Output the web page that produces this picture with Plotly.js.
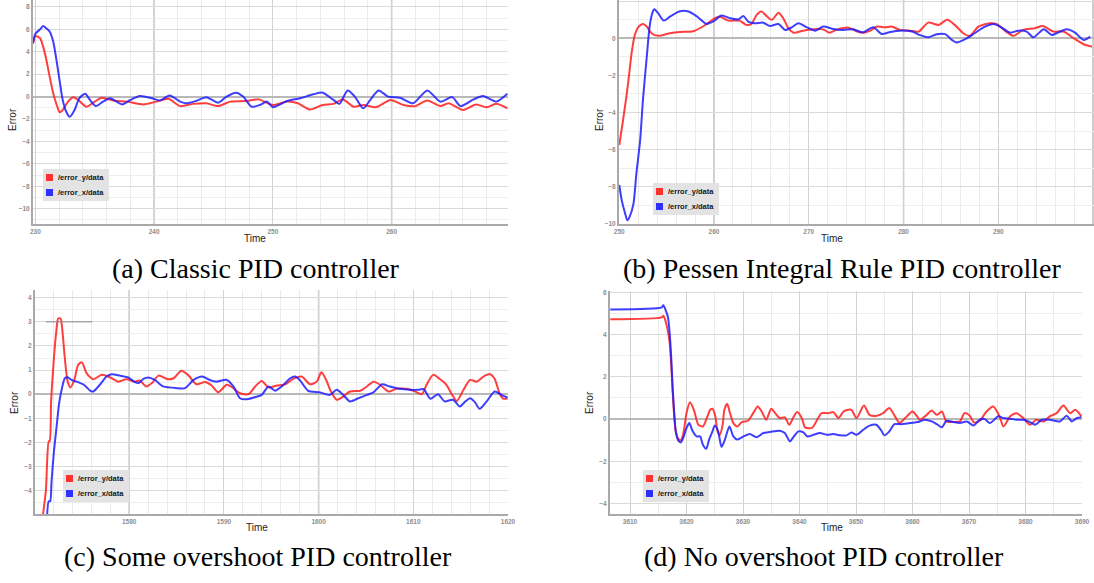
<!DOCTYPE html>
<html>
<head>
<meta charset="utf-8">
<script src="https://cdn.plot.ly/plotly-3.0.1.min.js"></script>
<style>
  html, body { margin: 0; padding: 0; background: #fff; }
  #chart { width: 1094px; height: 583px; }
</style>
</head>
<body>
<div id="chart"></div>
<script>
// ---- recorded tracking errors (time in s, error in m) ----
// (a) Classic PID
const classicTimeY = [229.8,230.0,230.4,230.65,230.9,231.2,231.5,231.8,232.05,232.3,232.75,233.2,233.6,234.3,235.0,235.6,236.55,237.7,239.1,240.2,241.2,242.2,243.3,244.4,245.4,246.4,247.8,248.8,250.0,251.2,252.1,253.1,254.2,255.1,255.9,256.8,257.6,258.7,259.9,261.0,262.0,263.0,264.1,264.8,266.0,267.1,268.0,268.8,269.75];
const classicErrY = [4.75,5.4,5.2,4.45,3.4,1.8,0.3,-0.75,-1.4,-1.2,-0.45,-0.05,-0.3,-0.9,-0.45,-0.1,-0.35,-0.45,-0.7,-0.45,-0.2,-0.85,-0.65,-0.6,-0.85,-0.45,-0.4,-0.25,-0.75,-0.45,-0.6,-1.15,-0.75,-0.65,-0.25,-0.9,-0.75,-0.95,-0.3,-0.75,-0.85,-0.35,-0.85,-0.6,-1.2,-0.7,-0.95,-0.65,-1.05];
const classicTimeX = [229.8,230.0,230.4,230.65,230.9,231.2,231.5,231.8,232.05,232.3,232.6,232.9,233.3,233.7,234.2,234.6,235.1,235.7,236.3,237.3,238.0,238.8,239.8,240.5,241.3,242.2,242.7,243.5,244.4,245.4,246.1,246.9,247.5,248.2,248.9,249.5,250.0,251.2,252.3,253.4,254.2,255.1,255.6,256.3,256.9,257.6,258.2,258.9,259.7,260.7,261.8,263.0,264.1,265.1,265.8,266.9,267.7,268.8,269.75];
const classicErrX = [4.75,5.6,6.0,6.3,6.1,5.8,4.9,3.1,1.35,-0.3,-1.35,-1.8,-1.2,-0.15,0.25,-0.3,-0.85,-0.45,-0.15,-0.7,-0.3,0.05,-0.15,-0.35,0.1,-0.45,-0.6,-0.4,-0.05,-0.55,0.0,0.35,0.0,-0.9,-0.75,-0.45,-0.95,-0.4,-0.15,0.2,0.35,-0.3,-0.65,0.55,0.0,-1.05,-0.3,0.55,0.0,-0.1,-0.6,0.55,-0.45,-0.05,-0.85,-0.25,0.05,-0.45,0.25];

// (b) Pessen Integral Rule PID
const pessenTimeY = [250.0,250.4,250.8,251.05,251.3,251.65,252.0,252.5,252.9,253.4,254.1,255.35,256.4,257.8,258.9,259.9,260.6,261.5,262.7,263.4,263.95,264.5,265.0,265.6,266.1,266.8,267.3,267.85,268.4,269.4,270.5,271.5,272.2,272.9,274.2,275.1,275.8,276.5,277.2,278.05,278.75,279.6,280.7,281.6,282.6,283.7,284.6,285.4,286.3,287.0,287.9,289.1,289.8,290.7,291.6,292.6,293.85,294.7,295.8,296.9,297.95,299.0,299.9];
const pessenErrY = [-5.75,-4.4,-2.95,-1.9,-0.8,0.2,0.6,0.77,0.63,0.27,0.13,0.27,0.34,0.38,0.66,1.02,1.17,0.95,0.95,0.72,0.77,1.26,1.44,1.17,0.99,1.38,1.08,0.54,0.3,0.41,0.48,0.48,0.3,0.45,0.57,0.36,0.3,0.41,0.63,0.59,0.63,0.45,0.41,0.36,0.84,0.72,0.99,0.72,0.27,0.13,0.63,0.81,0.77,0.41,0.13,0.45,0.54,0.66,0.36,0.36,0.0,-0.32,-0.45];
const pessenTimeX = [250.0,250.25,250.6,250.85,251.1,251.5,251.8,252.2,252.5,252.9,253.2,253.5,253.7,254.1,254.7,255.35,256.4,257.3,258.2,259.2,259.9,260.8,261.7,262.6,263.1,263.6,264.3,265.2,265.9,266.8,267.5,268.2,268.9,269.8,270.7,271.5,272.6,273.6,274.7,275.7,276.8,277.7,278.6,279.6,280.9,281.7,282.6,283.5,284.4,285.1,285.6,286.5,287.5,288.6,289.5,290.2,291.25,292.1,293.0,293.7,294.8,295.65,296.5,297.2,298.1,299.0,299.7];
const pessenErrX = [-7.9,-8.7,-9.4,-9.8,-9.6,-8.9,-7.3,-5.5,-3.3,-1.0,0.63,1.38,1.56,1.35,0.95,1.17,1.45,1.44,1.17,0.77,0.9,1.22,1.08,1.02,1.2,0.9,0.81,0.84,0.66,0.77,0.45,0.59,0.81,0.59,0.41,0.63,0.5,0.45,0.48,0.32,0.59,0.23,0.34,0.41,0.36,0.18,0.05,0.22,0.22,-0.09,-0.23,-0.05,0.27,0.63,0.77,0.63,0.3,0.41,0.36,0.05,0.48,0.18,0.36,0.48,0.3,-0.09,0.09];

// (c) Some overshoot PID
const someTimeY = [1570.75,1570.9,1571.2,1571.5,1571.6,1571.75,1571.9,1572.1,1572.3,1572.5,1572.75,1572.95,1573.2,1573.5,1573.8,1574.2,1574.6,1575.0,1575.5,1576.2,1577.1,1578.0,1578.85,1579.7,1580.6,1581.1,1581.8,1582.4,1583.1,1584.0,1584.7,1585.5,1586.2,1587.1,1588.0,1588.7,1589.4,1590.3,1591.0,1591.7,1592.6,1593.3,1594.0,1594.7,1595.6,1596.5,1597.3,1598.2,1599.1,1599.8,1600.3,1600.8,1601.3,1601.9,1602.6,1603.3,1604.4,1605.1,1605.8,1606.5,1607.4,1608.2,1609.3,1610.2,1610.9,1611.4,1612.1,1612.8,1613.5,1614.0,1614.6,1615.3,1616.0,1616.7,1617.4,1618.1,1618.6,1619.1,1619.5,1619.95];
const someErrY = [-6.0,-5.0,-4.0,-1.95,-1.95,-0.3,0.66,1.77,2.6,3.14,3.14,2.6,1.49,0.52,0.28,0.59,1.21,1.32,0.87,0.62,0.8,0.69,0.52,0.62,0.52,0.57,0.32,0.46,0.77,0.63,0.66,0.97,0.8,0.41,0.5,0.36,0.08,0.39,0.25,0.04,0.0,0.32,0.55,0.28,0.36,0.41,0.63,0.73,0.41,0.52,0.91,0.59,0.11,-0.23,-0.1,0.11,0.14,0.32,0.52,0.39,0.11,0.22,0.22,0.11,0.0,0.39,0.8,0.63,0.39,0.04,-0.28,0.18,0.59,0.52,0.73,0.83,0.63,0.04,-0.19,-0.17];
const someTimeX = [1571.3,1571.5,1571.65,1571.8,1572.05,1572.35,1572.6,1572.9,1573.2,1573.5,1573.9,1574.45,1575.2,1575.9,1576.2,1576.9,1577.6,1578.15,1579.0,1579.9,1580.6,1581.0,1581.5,1582.0,1582.7,1583.6,1585.0,1585.9,1586.8,1587.7,1588.5,1589.2,1590.3,1591.0,1591.7,1592.4,1593.5,1594.0,1594.7,1595.4,1596.1,1597.0,1597.5,1598.0,1598.9,1600.1,1601.2,1601.9,1602.6,1603.3,1604.2,1605.1,1605.8,1606.7,1607.5,1608.6,1609.6,1610.5,1611.1,1611.8,1612.6,1613.3,1614.2,1614.9,1615.5,1616.0,1616.5,1617.0,1617.75,1618.6,1619.3,1619.95];
const someErrX = [-5.3,-4.44,-4.44,-3.6,-2.37,-1.27,-0.37,0.25,0.66,0.7,0.59,0.52,0.39,0.14,0.11,0.39,0.73,0.83,0.77,0.69,0.5,0.46,0.63,0.69,0.59,0.32,0.25,0.25,0.59,0.73,0.59,0.52,0.59,0.32,-0.17,-0.21,-0.1,-0.03,0.32,0.14,0.32,0.66,0.73,0.59,0.14,0.08,-0.03,0.18,-0.03,-0.3,-0.17,-0.03,0.08,0.41,0.32,0.22,0.18,0.18,0.21,-0.19,0.0,-0.3,-0.23,-0.51,-0.3,-0.17,-0.33,-0.61,-0.3,0.11,-0.03,-0.14];

// (d) No overshoot PID
const noTimeY = [3606.5,3615.6,3615.9,3616.2,3616.6,3617.0,3617.3,3617.55,3617.85,3618.1,3618.55,3619.0,3619.4,3620.0,3620.6,3621.3,3622.1,3622.9,3623.6,3624.2,3624.6,3625.1,3625.5,3625.9,3626.4,3626.7,3627.2,3627.7,3628.3,3629.0,3629.8,3630.9,3631.8,3632.6,3633.3,3634.1,3635.0,3635.7,3636.5,3637.4,3638.2,3639.0,3639.6,3640.4,3641.0,3642.2,3643.3,3643.9,3645.1,3646.0,3646.9,3647.8,3648.6,3649.2,3650.1,3651.4,3652.4,3653.7,3654.8,3655.9,3656.9,3657.7,3658.7,3660.0,3660.7,3661.3,3662.5,3663.4,3664.3,3665.2,3666.0,3667.2,3668.4,3669.2,3670.1,3670.9,3671.9,3673.1,3674.3,3675.4,3676.1,3677.3,3678.4,3679.6,3680.8,3681.9,3683.2,3684.3,3685.5,3686.7,3687.9,3688.8,3689.9];
const noErrY = [4.72,4.81,4.89,4.72,4.29,3.66,2.56,1.3,0.05,-0.58,-0.93,-1.0,-0.74,0.28,0.8,0.44,-0.27,-0.35,0.05,0.44,0.49,0.13,-0.58,-0.74,-0.27,0.44,0.72,0.28,-0.19,-0.35,-0.14,-0.08,0.28,0.6,0.36,-0.03,0.49,0.28,0.05,0.08,-0.27,0.13,0.33,0.05,-0.39,-0.42,0.05,0.28,0.28,0.33,0.05,0.36,0.44,0.44,0.05,0.64,0.2,0.16,0.28,0.52,0.13,-0.19,0.05,0.36,0.17,-0.03,0.2,0.41,0.2,0.36,-0.11,-0.14,-0.11,0.28,0.17,-0.16,-0.08,0.36,0.6,0.13,-0.35,0.13,0.28,0.05,-0.27,-0.03,-0.11,0.13,0.28,0.64,0.28,0.44,0.13];
const noTimeX = [3606.5,3615.6,3615.9,3616.3,3616.7,3617.0,3617.3,3617.55,3617.85,3618.1,3618.55,3619.0,3619.4,3620.0,3620.5,3621.1,3621.8,3622.4,3622.9,3623.5,3624.0,3624.6,3625.0,3625.6,3626.2,3626.8,3627.6,3628.3,3629.0,3630.1,3631.2,3632.4,3633.6,3634.8,3636.5,3637.4,3638.3,3639.0,3639.8,3640.7,3641.4,3642.5,3643.6,3644.8,3646.0,3647.2,3648.3,3649.2,3650.1,3651.3,3652.4,3653.6,3654.5,3655.0,3655.9,3656.8,3658.0,3659.6,3661.3,3662.2,3663.4,3664.3,3665.2,3666.0,3667.2,3668.4,3669.6,3670.8,3671.9,3672.8,3673.7,3675.2,3676.1,3677.3,3678.4,3679.6,3680.8,3681.7,3682.9,3684.3,3686.1,3687.3,3688.2,3689.1,3689.9];
const noErrX = [5.19,5.28,5.39,5.16,4.84,4.13,2.88,1.46,0.2,-0.58,-1.02,-1.1,-0.9,-0.42,-0.19,-0.58,-0.82,-0.82,-1.21,-1.4,-0.97,-0.58,-0.3,-0.58,-1.32,-0.97,-0.35,-0.82,-0.97,-0.82,-0.71,-0.86,-0.66,-0.61,-0.55,-0.66,-1.05,-0.82,-0.58,-0.63,-0.82,-0.74,-0.66,-0.74,-0.71,-0.77,-0.77,-0.63,-0.74,-0.5,-0.31,-0.27,-0.55,-0.77,-0.58,-0.24,-0.24,-0.19,-0.11,-0.03,-0.11,-0.24,-0.39,-0.08,-0.14,-0.19,-0.11,-0.3,-0.03,0.0,-0.19,0.13,0.05,0.02,-0.03,-0.03,-0.14,-0.27,-0.03,-0.03,-0.11,0.16,-0.11,0.05,0.09];

// ---- labels ----
const seriesNames = ['/error_y/data', '/error_x/data'];
const captions = [
  '(a) Classic PID controller',
  '(b) Pessen Integral Rule PID controller',
  '(c) Some overshoot PID controller',
  '(d) No overshoot PID controller'
];
const xTitle = 'Time';
const yTitle = 'Error';

// ---- page geometry (pixels) ----
const W = 1094, H = 583;
const fx = p => p / W;
const fy = p => 1 - p / H;

const lineColors = ['rgba(255,28,28,0.85)', 'rgba(28,28,255,0.85)'];
const swatchColors = ['#ff3030', '#2f2fff'];

const panels = [
  { box: [33, 0, 508, 224], xr: [229.8, 269.8], yr: [-11.36, 8.61], ydt: 2, ymin: 1, xmin: 2, strong: [240, 260],
    series: [[classicTimeY, classicErrY], [classicTimeX, classicErrX]],
    legend: [43, 169], timeAt: [255, 239], errAt: [12, 120], capAt: [256, 268] },
  { box: [619, 0, 1094, 224], xr: [249.97, 300.1], yr: [-10, 2.06], ydt: 2, ymin: 1, xmin: 2, strong: [260, 280, 300],
    series: [[pessenTimeY, pessenErrY], [pessenTimeX, pessenErrX]],
    legend: [653, 183], timeAt: [832, 239], errAt: [599, 120], capAt: [842, 268] },
  { box: [35, 290, 508, 514], xr: [1570.05, 1620], yr: [-4.97, 4.32], ydt: 1, ymin: 0.5, xmin: 2, strong: [1580, 1600],
    series: [[someTimeY, someErrY], [someTimeX, someErrX]],
    legend: [63, 470], timeAt: [257, 527], errAt: [15, 403], capAt: [258, 556] },
  { box: [610, 291, 1082, 514], xr: [3606.46, 3690], yr: [-4.49, 6.06], ydt: 2, ymin: 1, xmin: 5, strong: [],
    series: [[noTimeY, noErrY], [noTimeX, noErrX]],
    legend: [643, 470], timeAt: [832, 527], errAt: [590, 403], capAt: [824, 556] }
];

const tickFont = { family: 'Liberation Sans, Arial, sans-serif', size: 6.5, color: '#8e8e8e', weight: 'bold' };
const data = [];
const shapes = [];
const annotations = [];
const layout = {
  width: W, height: H,
  margin: { l: 0, r: 0, t: 0, b: 0 },
  paper_bgcolor: '#ffffff', plot_bgcolor: '#ffffff',
  showlegend: false
};

panels.forEach((p, i) => {
  const n = i === 0 ? '' : String(i + 1);
  const xa = 'x' + n, ya = 'y' + n;
  const [x0, y0, x1, y1] = p.box;

  layout['xaxis' + n] = {
    domain: [fx(x0), fx(x1)], range: p.xr, anchor: ya,
    showline: true, linecolor: '#a9a9a9', linewidth: 2,
    showgrid: true, gridcolor: '#d2d2d2', gridwidth: 1,
    tick0: 0, dtick: 10,
    minor: { tick0: 0, dtick: p.xmin, showgrid: true, gridcolor: '#ebebeb', gridwidth: 1 },
    zeroline: false, ticks: '', tickfont: tickFont, exponentformat: 'none', separatethousands: false,
    automargin: false, fixedrange: true
  };
  layout['yaxis' + n] = {
    domain: [fy(y1), fy(y0)], range: p.yr, anchor: xa,
    showline: true, linecolor: '#a9a9a9', linewidth: 2,
    showgrid: true, gridcolor: '#dadada', gridwidth: 1,
    tick0: 0, dtick: p.ydt,
    minor: { tick0: 0, dtick: p.ymin, showgrid: true, gridcolor: '#eeeeee', gridwidth: 1 },
    zeroline: true, zerolinecolor: '#b9b9b9', zerolinewidth: 2,
    ticks: '', tickfont: tickFont, automargin: false, fixedrange: true
  };

  // heavier grid lines every 20 s
  p.strong.forEach(v => shapes.push({
    type: 'line', xref: xa, yref: ya + ' domain', x0: v, x1: v, y0: 0, y1: 1,
    line: { color: '#bcbcbc', width: 1.5 }, layer: 'below'
  }));

  // red series first, blue on top
  p.series.forEach((s, k) => data.push({
    type: 'scatter', mode: 'lines', x: s[0], y: s[1], xaxis: xa, yaxis: ya,
    name: seriesNames[k], showlegend: false, hoverinfo: 'skip',
    line: { color: lineColors[k], width: 2, shape: 'spline', smoothing: 0.7 }
  }));

  // legend box
  const [bx, by] = p.legend;
  shapes.push({
    type: 'rect', xref: 'paper', yref: 'paper',
    x0: fx(bx), x1: fx(bx + 66), y0: fy(by + 32), y1: fy(by),
    fillcolor: '#e3e3e3', line: { width: 0 }, layer: 'above'
  });
  seriesNames.forEach((name, k) => {
    const top = by + 5 + k * 15;
    shapes.push({
      type: 'rect', xref: 'paper', yref: 'paper',
      x0: fx(bx + 3), x1: fx(bx + 10), y0: fy(top + 7), y1: fy(top),
      fillcolor: swatchColors[k], line: { width: 0 }, layer: 'above'
    });
    annotations.push({
      xref: 'paper', yref: 'paper', x: fx(bx + 13), y: fy(top + 3.6),
      xanchor: 'left', yanchor: 'middle', showarrow: false, text: name,
      font: { family: 'Liberation Sans, Arial, sans-serif', size: 7.5, color: '#151515', weight: 'bold' }
    });
  });

  // axis titles
  annotations.push({
    xref: 'paper', yref: 'paper', x: fx(p.timeAt[0]), y: fy(p.timeAt[1]),
    xanchor: 'center', yanchor: 'middle', showarrow: false, text: xTitle,
    font: { family: 'Liberation Sans, Arial, sans-serif', size: 10, color: '#222' }
  });
  annotations.push({
    xref: 'paper', yref: 'paper', x: fx(p.errAt[0]), y: fy(p.errAt[1]),
    xanchor: 'center', yanchor: 'middle', showarrow: false, text: yTitle, textangle: -90,
    font: { family: 'Liberation Sans, Arial, sans-serif', size: 10, color: '#222' }
  });

  // sub-figure caption
  annotations.push({
    xref: 'paper', yref: 'paper', x: fx(p.capAt[0]), y: fy(p.capAt[1]),
    xanchor: 'center', yanchor: 'middle', showarrow: false, text: captions[i],
    font: { family: 'Liberation Serif, Times New Roman, serif', size: 28, color: '#000' }
  });
});

// cursor marker left on the overshoot plot
shapes.push({
  type: 'line', xref: 'x3', yref: 'y3', x0: 1571.2, x1: 1576.1, y0: 3, y1: 3,
  line: { color: '#8a8a8a', width: 1 }
});

layout.shapes = shapes;
layout.annotations = annotations;

Plotly.newPlot('chart', data, layout, { staticPlot: true, displayModeBar: false });
</script>
</body>
</html>
